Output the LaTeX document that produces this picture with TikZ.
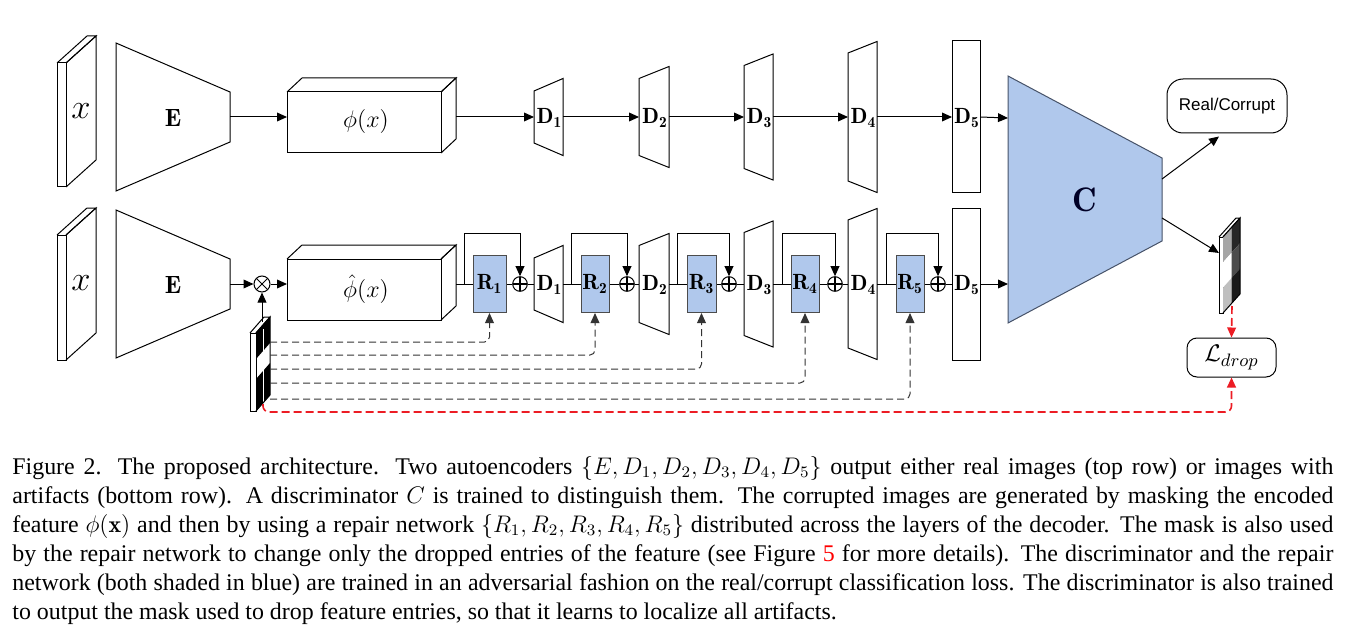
\documentclass[tikz,border=0pt]{standalone}
\usepackage{fontspec}
\usepackage{tikz}
\usetikzlibrary{arrows.meta}
\newfontfamily\capfont{Liberation Serif}
\newfontfamily\boxfont{Liberation Sans}
\definecolor{netblue}{RGB}{176,200,236}
\definecolor{netedge}{RGB}{70,82,104}
\definecolor{dropred}{RGB}{236,28,36}
% input image slab: name, top y, bottom y of the front face
\def\slab#1#2#3{
  \draw[block] (57,#2) rectangle (66,#3);
  \draw[block] (57,#2) -- (87,#2-27) -- (96,#2-27) -- (66,#2);
  \draw[block] (66,#2) -- (96,#2-27) -- (96,#3-27) -- (66,#3);
  \node[font=\fontsize{18}{20}\selectfont, inner sep=0pt] (#1) at (81,{(#2+#3)/2-14}) {$x$};
}
% encoder: name, row y
\def\enc#1#2{
  \draw[block] (116,#2-74) -- (230,#2-25) -- (230,#2+25) -- (116,#2+74) -- cycle;
  \node[lbl, font=\fontsize{12.5}{14}\selectfont] (#1) at (173,#2+1) {$\mathbf{E}$};
  \coordinate (#1-e) at (230,#2);
}
% feature box: name, row y, label
\def\featbox#1#2#3{
  \draw[block] (287,#2-25) rectangle (441,#2+36);
  \draw[block] (287,#2-25) -- (302,#2-39) -- (456,#2-39) -- (441,#2-25);
  \draw[block] (441,#2-25) -- (456,#2-39) -- (456,#2+22) -- (441,#2+36);
  \node[font=\fontsize{12.5}{14}\selectfont, inner sep=0pt] (#1) at (366,#2+5) {#3};
  \coordinate (#1-w) at (287,#2);
  \coordinate (#1-e) at (456,#2);
}
% decoder block: name, left x, row y, width, left height, right height, label
\def\decblock#1#2#3#4#5#6#7{
  \draw[block] (#2,#3-#5/2) -- (#2+#4,#3-#6/2) -- (#2+#4,#3+#6/2) -- (#2,#3+#5/2) -- cycle;
  \coordinate (#1-w) at (#2,#3);
  \coordinate (#1-e) at (#2+#4,#3);
  \node[lbl] (#1) at (#2+#4/2+1,#3+1) {#7};
}

\begin{document}
\begin{tikzpicture}[x=0.5pt,y=-0.5pt,
  block/.style={draw, line width=0.5pt},
  lbl/.style={font=\fontsize{11}{13}\selectfont, inner sep=0pt},
  arr/.style={-{Triangle[length=5pt,width=4.4pt]}, line width=0.5pt},
  link/.style={line width=0.5pt},
  maskline/.style={arr, black!80, dash pattern=on 3.5pt off 2pt, rounded corners=2.5pt},
  dropline/.style={arr, dropred, line width=0.8pt, dash pattern=on 4pt off 2pt, rounded corners=3pt},
  res/.style={draw=black!70, fill=netblue, line width=0.5pt, minimum height=28.5pt, inner sep=0pt, font=\fontsize{11}{13}\selectfont},
  sumnode/.style={circle, draw, line width=0.5pt, minimum size=7.3pt, inner sep=0pt,
    path picture={\draw[line width=1pt] (path picture bounding box.north) -- (path picture bounding box.south)
      (path picture bounding box.west) -- (path picture bounding box.east);}},
  multnode/.style={circle, draw, line width=0.5pt, minimum size=8pt, inner sep=0pt,
    path picture={\draw[line width=0.5pt] (path picture bounding box.north west) -- (path picture bounding box.south east)
      (path picture bounding box.south west) -- (path picture bounding box.north east);}},
  outbox/.style={draw, line width=0.5pt, align=center, inner sep=0pt}]
\useasboundingbox (0,0) rectangle (1350,642);

%%%%% top row: real images
\slab{xt}{63}{187}
\enc{enct}{117}
\featbox{phi}{117}{$\phi(x)$}
%%%%% bottom row: masked feature and repair blocks
\slab{xb}{235}{360}
\enc{encb}{284}
\featbox{phih}{284}{$\hat{\phi}(x)$}

\foreach \n/\x/\w/\hl/\hr in {1/534/29/52/77, 2/639/30/77/101, 3/744/29/103/126, 4/848/29/128/151, 5/952/28/152/152} {
  \decblock{Dt\n}{\x}{117}{\w}{\hl}{\hr}{$\mathbf{D_{\n}}$}
  \decblock{Db\n}{\x}{284}{\w}{\hl}{\hr}{$\mathbf{D_{\n}}$}
}

% discriminator
\draw[fill=netblue, draw=netedge, line width=0.5pt] (1008,76) -- (1162,158) -- (1162,241) -- (1008,323) -- cycle;
\node[font=\fontsize{17}{20}\selectfont, inner sep=0pt, text=black!85!blue] (C) at (1085,200) {$\mathbf{C}$};
\coordinate (C-w1) at (1008,118);
\coordinate (C-w2) at (1008,284);
\coordinate (C-o1) at (1162,179);
\coordinate (C-o2) at (1162,218);

\node[outbox, rounded corners=8pt, minimum width=60pt, minimum height=27pt, font=\boxfont\fontsize{8.5}{10}\selectfont] (rc) at (1227,106) {Real/Corrupt};
\node[outbox, rounded corners=5pt, minimum width=44.5pt, minimum height=19.5pt, font=\fontsize{13}{15}\selectfont] (ldrop) at (1231.5,357.5) {$\mathcal{L}_{drop}$};

% input mask
\draw[block, fill=white] (250,333) rectangle (256,411);
\draw[block] (250,333) -- (264,317) -- (270,317) -- (256,333);
\foreach \c/\v/\h in {0/0/26, 1/0/26, 0/46/32, 1/46/32}
  \fill[black] ({256+7*\c},{333-8*\c+\v}) -- ++(7,-8) -- ++(0,\h) -- ++(-7,8) -- cycle;
\draw[white, line width=0.5pt] (263,329) -- (263,403);
\draw[block] (256,333) -- (270,317) -- (270,395) -- (256,411);
\coordinate (lm-t) at (262,322);
\coordinate (lm-b) at (263,404);
\foreach \i/\y in {1/342, 2/355, 3/369, 4/383, 5/399}
  \coordinate (tap\i) at (270,\y);

% predicted mask
\draw[block, fill=white] (1219,237) rectangle (1223,313);
\draw[block] (1219,237) -- (1236,218) -- (1240,218) -- (1223,237);
\foreach \c/\r/\col in {0/0/black!35, 1/0/black!85, 0/1/white, 1/1/black!70, 0/2/black!25, 1/2/black!90}
  \fill[\col] ({1223+8.5*\c},{237-9.5*\c+25.33*\r}) -- ++(8.5,-9.5) -- ++(0,25.33) -- ++(-8.5,9.5) -- cycle;
\draw[block] (1223,237) -- (1240,218) -- (1240,294) -- (1223,313);
\coordinate (om-w) at (1219,253);
\coordinate (om-b) at (1232,306);

% repair blocks and sums
\foreach \i/\x/\w in {1/489.5/16.5, 2/595/14, 3/701.5/14.5, 4/805/14, 5/910/14}
  \node[res, minimum width=\w pt] (R\i) at (\x,284) {$\mathbf{R_{\i}}$};
\foreach \i/\x in {1/520, 2/627, 3/729, 4/835, 5/938}
  \node[sumnode] (p\i) at (\x,284) {};
\node[multnode] (mult) at (262,284) {};

%%%%% connections
\draw[arr] (enct-e) -- (phi-w);
\draw[arr] (phi-e) -- (Dt1-w);
\foreach \a/\b in {1/2, 2/3, 3/4, 4/5}
  \draw[arr] (Dt\a-e) -- (Dt\b-w);
\draw[arr] (Dt5-e) -- (C-w1);

\draw[arr] (encb-e) -- (mult);
\draw[arr] (mult) -- (phih-w);
\draw[arr] (lm-t) -- (mult);
\draw[link] (phih-e) -- (R1);
\foreach \i in {1,...,5}
  \draw[link] (R\i) -- (p\i) (p\i) -- (Db\i-w);
\foreach \a/\b in {1/2, 2/3, 3/4, 4/5}
  \draw[link] (Db\a-e) -- (R\b);
\draw[arr] (Db5-e) -- (C-w2);

\foreach \i/\x in {1/464, 2/571, 3/677, 4/782, 5/886} {
  \coordinate (s\i) at (\x,284);
  \draw[arr] (s\i) -- ++(0,-51) -| (p\i.north);
}
\foreach \i in {1,...,5}
  \draw[maskline] (tap\i) -| (R\i.south);

\draw[arr] (C-o1) -- ([xshift=-4pt,yshift=-1.5pt]rc.south);
\draw[arr] (C-o2) -- (om-w);
\draw[dropline] (om-b) -- (ldrop.north);
\draw[dropline] (lm-b) -- ++(0,8) -| (ldrop.south);

%%%%% caption
\node[anchor=base west, inner sep=0pt, text width=660.5pt, align=justify,
  font=\capfont\fontsize{11.95}{14.5}\selectfont] (caption) at (12,474)
  {Figure 2. The proposed architecture. Two autoencoders $\{E, D_1, D_2, D_3, D_4, D_5\}$ output either real images (top row) or images with\linebreak
  artifacts (bottom row). A discriminator $C$ is trained to distinguish them. The corrupted images are generated by masking the encoded\linebreak
  feature $\phi(\mathbf{x})$ and then by using a repair network $\{R_1, R_2, R_3, R_4, R_5\}$ distributed across the layers of the decoder. The mask is also used\linebreak
  by the repair network to change only the dropped entries of the feature (see Figure \textcolor{red}{5} for more details). The discriminator and the repair\linebreak
  network (both shaded in blue) are trained in an adversarial fashion on the real/corrupt classification loss. The discriminator is also trained\linebreak
  to output the mask used to drop feature entries, so that it learns to localize all artifacts.};
\end{tikzpicture}
\end{document}
